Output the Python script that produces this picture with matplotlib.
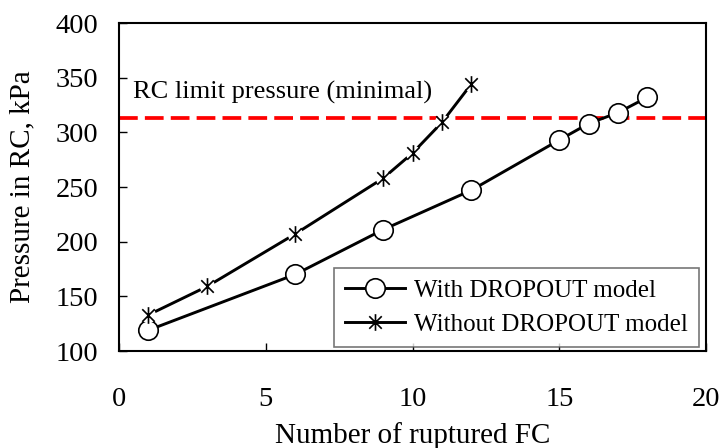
import matplotlib
matplotlib.use("Agg")
import matplotlib.pyplot as plt
from matplotlib.path import Path

plt.rcParams['font.family'] = ['Liberation Serif', 'DejaVu Serif']

# data
fc_with = [1, 6, 9, 12, 15, 16, 17, 18]
p_with = [119, 170, 211, 247, 293, 308, 318, 332]
fc_without = [1, 3, 6, 9, 10, 11, 12]
p_without = [133, 159, 207, 258, 281, 309, 344]
limit_pressure = 313.5
limit_label = "RC limit pressure (minimal)"
x_ticks = [0, 5, 10, 15, 20]
y_ticks = [100, 150, 200, 250, 300, 350, 400]

# asterisk marker: vertical bar plus an X
star = Path([(0, -1), (0, 1), (-0.75, -0.75), (0.75, 0.75), (-0.75, 0.75), (0.75, -0.75)],
            [Path.MOVETO, Path.LINETO, Path.MOVETO, Path.LINETO, Path.MOVETO, Path.LINETO])

fig = plt.figure(figsize=(7.22, 4.48), dpi=100)
ax = fig.add_axes([119/722, 1 - 351/448, 587/722, 328/448])

ax.axhline(limit_pressure, color='red', lw=2.7, dashes=(5, 1.9), zorder=1)
ax.text(0.48, 330.5, limit_label, fontsize=19, va='baseline', ha='left')

ax.plot(fc_with, p_with, color='black', lw=2.1, marker='o', ms=14,
        mfc='white', mec='black', mew=1.2, label='With DROPOUT model', zorder=3)
# white halo behind the asterisks so the line looks broken there
ax.plot(fc_without, p_without, 'o', color='white', ms=10, zorder=3.5)
ax.plot(fc_without, p_without, color='black', lw=2.1, zorder=3)
ax.plot(fc_without, p_without, linestyle='none', marker=star, ms=12,
        mec='black', mew=1.2, zorder=4)
# legend proxy
ax.plot([], [], color='black', lw=2.1, marker=star, ms=12, mec='black', mew=1.2,
        label='Without DROPOUT model')

handles, labels = ax.get_legend_handles_labels()
leg = ax.legend(handles, labels, loc='lower left', bbox_to_anchor=(0.366, 0.012),
                borderaxespad=0, fontsize=18, frameon=True, fancybox=False,
                handlelength=2.4, handletextpad=0.35, labelspacing=0.45,
                borderpad=0.45)
leg.get_frame().set_edgecolor('#555555')
leg.get_frame().set_linewidth(1.2)

ax.set_xlim(0, 20)
ax.set_ylim(100, 400)
ax.set_xticks(x_ticks)
ax.set_yticks(y_ticks)
ax.tick_params(axis='both', direction='in', length=6, width=1, labelsize=20.5)
ax.tick_params(axis='x', pad=26)
ax.tick_params(axis='y', pad=15)
for s in ax.spines.values():
    s.set_linewidth(1.5)

ax.set_xlabel('Number of ruptured FC', fontsize=21)
ax.set_ylabel('Pressure in RC, kPa', fontsize=21)
ax.xaxis.set_label_coords(0.5, -0.2805)
ax.xaxis.label.set_va('baseline')
ax.yaxis.set_label_coords(-0.143, 0.5)

fig.savefig('out.png', dpi=100)
